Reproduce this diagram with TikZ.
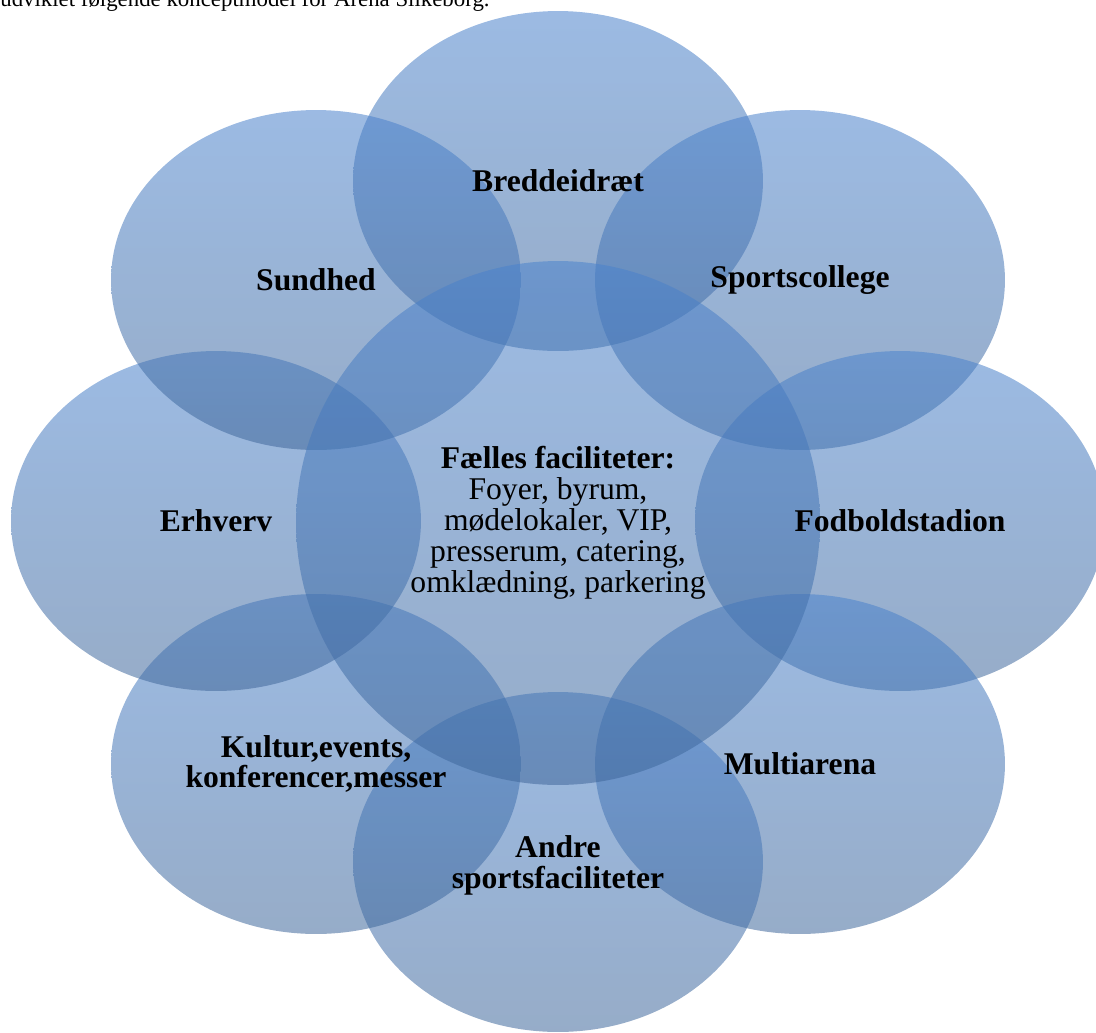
\documentclass[tikz,border=0pt]{standalone}
\usepackage{fontspec}
\setmainfont{Liberation Serif}
\usetikzlibrary{shapes.geometric}
\definecolor{bubbletop}{RGB}{74,130,204}
\definecolor{bubblebot}{RGB}{64,104,155}

\begin{document}
\begin{tikzpicture}[
  x=0.02cm, y=-0.02cm,
  every node/.style={font=\fontsize{18}{17.6}\selectfont},
  bubble/.style={ellipse, top color=bubbletop, bottom color=bubblebot, fill opacity=0.55, draw=none, inner sep=0pt, minimum width=8.2cm, minimum height=6.8cm},
  hub/.style={bubble, minimum width=10.48cm, minimum height=10.48cm},
  tag/.style={align=center, font=\fontsize{18}{17.6}\selectfont\bfseries, inner sep=0pt}
]
\path[use as bounding box] (0,0) rectangle (1096,1032);
\clip (0,0) rectangle (1096,1032);

% line of running text above the model
\node[anchor=base west, inner sep=0pt, font=\fontsize{13}{15}\selectfont] (intro) at (0,6.5) {udviklet følgende konceptmodel for Arena Silkeborg.};

% outer areas round the shared core
\node[bubble] (bredde) at (558,181) {};
\node[bubble] (college) at (800,280) {};
\node[bubble] (stadion) at (900,521) {};
\node[bubble] (multi) at (800,764) {};
\node[bubble] (andre) at (558,862) {};
\node[bubble] (kultur) at (316,764) {};
\node[bubble] (erhverv) at (216,521) {};
\node[bubble] (sundhed) at (316,280) {};

% shared facilities in the middle
\node[hub] (faelles) at (558,523) {};

% texts
\node[tag] at (bredde.center) {Breddeidræt};
\node[tag] at (college.center) {Sportscollege};
\node[tag] at (stadion.center) {Fodboldstadion};
\node[tag] at (multi.center) {Multiarena};
\node[tag] at ([yshift=-2]andre.center) {Andre\\sportsfaciliteter};
\node[tag] at (kultur.center) {Kultur,events,\\konferencer,messer};
\node[tag] at (erhverv.center) {Erhverv};
\node[tag] at (sundhed.center) {Sundhed};
\node[align=center, inner sep=0pt] at (faelles.center) {\textbf{Fælles faciliteter:}\\Foyer, byrum,\\mødelokaler, VIP,\\presserum, catering,\\omklædning, parkering};
\end{tikzpicture}
\end{document}
